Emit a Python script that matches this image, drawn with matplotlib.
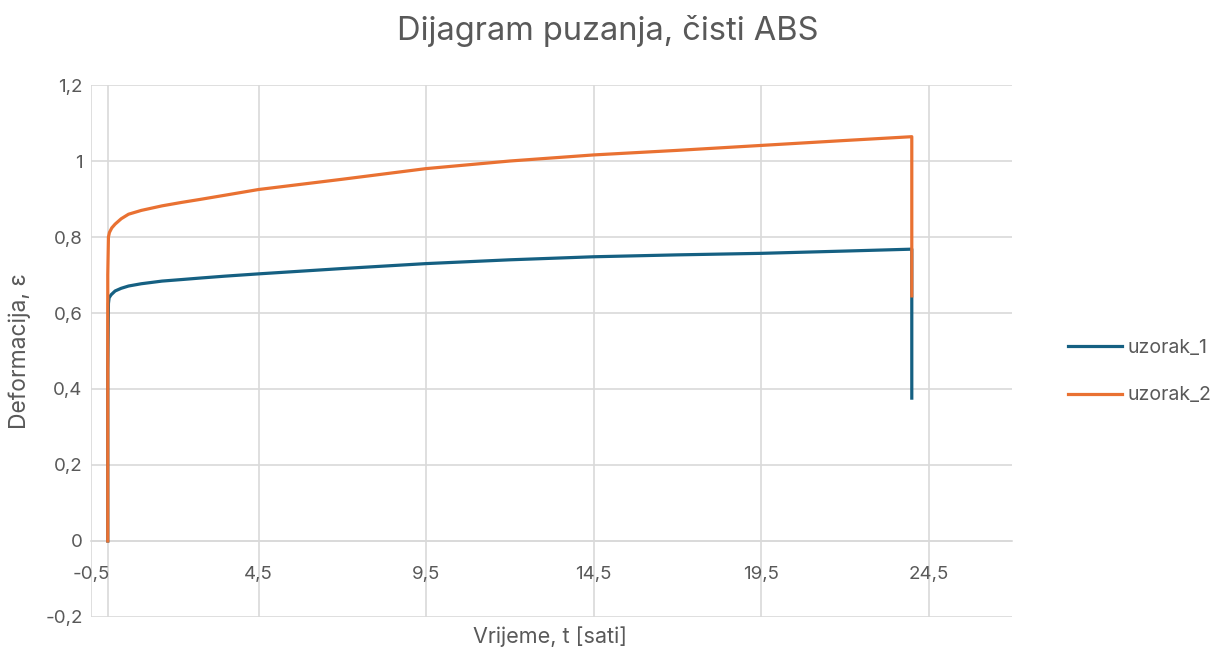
import matplotlib
matplotlib.use("Agg")
import matplotlib.pyplot as plt
from matplotlib.ticker import FuncFormatter

plt.rcParams['font.family'] = ['Inter', 'DejaVu Sans']

# vrijeme [sati] i deformacija za oba uzorka
t_1 = [0.0, 0.0, 0.02, 0.04, 0.1, 0.22, 0.4, 0.62, 1.0, 1.62, 2.2, 2.76, 3.5, 4.5, 7.0,
       9.5, 12.0, 14.5, 17.0, 19.5, 22.0, 24.0, 24.0]
eps_1 = [0.0, 0.45, 0.625, 0.64, 0.648, 0.658, 0.665, 0.671, 0.677, 0.684, 0.688, 0.692,
         0.697, 0.703, 0.717, 0.730, 0.740, 0.748, 0.753, 0.757, 0.763, 0.768, 0.376]

t_2 = [0.0, 0.0, 0.02, 0.05, 0.12, 0.22, 0.4, 0.62, 1.0, 1.62, 2.2, 2.76, 3.5, 4.5, 7.0,
       9.5, 12.0, 14.5, 17.0, 19.5, 22.0, 24.0, 24.0]
eps_2 = [0.0, 0.70, 0.80, 0.812, 0.824, 0.834, 0.848, 0.860, 0.870, 0.882, 0.891, 0.899,
         0.910, 0.925, 0.952, 0.980, 1.000, 1.016, 1.028, 1.041, 1.054, 1.064, 0.645]

labels = ['uzorak_1', 'uzorak_2']
x_ticks = [-0.5, 4.5, 9.5, 14.5, 19.5, 24.5]
y_ticks = [-0.2, 0, 0.2, 0.4, 0.6, 0.8, 1.0, 1.2]

text_col = '#595959'
grid_col = '#d9d9d9'

fig = plt.figure(figsize=(12.3, 6.54), dpi=100)
ax = fig.add_axes([0.074, 0.0566, 0.749, 0.8134])

ax.plot(t_1, eps_1, color='#156082', lw=2.3, label=labels[0], zorder=3)
ax.plot(t_2, eps_2, color='#e97132', lw=2.3, label=labels[1], zorder=4)

ax.set_xlim(-0.5, 27.0)
ax.set_ylim(-0.2, 1.2)
ax.set_xticks(x_ticks)
ax.set_yticks(y_ticks)

def comma(v, pos):
    s = ('%.1f' % v).rstrip('0').rstrip('.')
    if s == '-0':
        s = '0'
    return s.replace('.', ',')

ax.xaxis.set_major_formatter(FuncFormatter(comma))
ax.yaxis.set_major_formatter(FuncFormatter(comma))

ax.grid(True, color=grid_col, lw=1.2, zorder=0)
for side in ['top', 'right', 'left']:
    ax.spines[side].set_visible(False)
ax.spines['bottom'].set_position(('data', 0))
ax.spines['bottom'].set_color(grid_col)
ax.spines['bottom'].set_linewidth(1.2)
ax.axvline(0, color=grid_col, lw=1.2, zorder=1)

ax.tick_params(axis='x', length=0, pad=18, labelsize=13.5, labelcolor=text_col)
ax.tick_params(axis='y', length=0, pad=6, labelsize=13.5, labelcolor=text_col)

fig.text(0.494, 0.952, 'Dijagram puzanja, čisti ABS', ha='center', va='center',
         fontsize=23.5, color=text_col)
fig.text(0.447, 0.026, 'Vrijeme, t [sati]', ha='center', va='center',
         fontsize=15.5, color=text_col)
fig.text(0.016, 0.463, 'Deformacija, ε', ha='center', va='center', rotation=90,
         fontsize=16.5, color=text_col)

leg = ax.legend(loc='center left', bbox_to_anchor=(1.061, 0.461), frameon=False,
                fontsize=14, handlelength=2.75, handletextpad=0.3, labelspacing=1.5,
                borderpad=0, borderaxespad=0)
for txt in leg.get_texts():
    txt.set_color(text_col)

fig.savefig('out.png', dpi=100)
